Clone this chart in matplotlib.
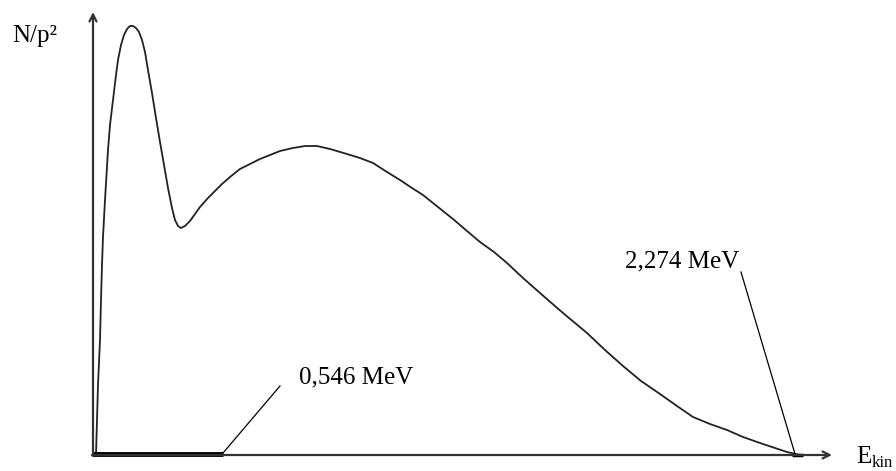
import numpy as np
import matplotlib as mpl
mpl.use('Agg')
import matplotlib.pyplot as plt

# spectrum (pixel units, y grows downward)
e_kin = [96, 97, 98, 100, 101, 102, 103, 105, 108, 110, 113, 116, 118, 121, 124,
         127, 130, 133, 136, 139, 142, 145, 148, 152, 156, 160, 164, 168, 172, 175,
         178, 181, 185, 190, 195, 200, 208, 215, 222, 230, 240, 250, 260, 270, 280,
         293, 305, 317, 330, 347, 360, 373, 387, 400, 412, 423, 438, 453, 467, 480,
         494, 507, 523, 540, 563, 587, 605, 623, 641, 660, 677, 693, 710, 727, 743,
         760, 775, 787, 800]
n_p2 = [455, 420, 385, 340, 300, 265, 237, 200, 150, 125, 100, 75, 60, 45, 35,
        29, 26, 26, 28, 32, 40, 52, 70, 93, 118, 142, 165, 188, 208, 220,
        226, 228, 226, 221, 214, 207, 198, 191, 184, 177, 169, 164, 159, 155, 151,
        148, 146, 146, 149, 154, 158, 163, 172, 180, 188, 195, 207, 219, 231, 242,
        252, 263, 278, 293, 313, 333, 350, 366, 381, 394, 406, 417, 424, 430, 437,
        443, 448, 452, 455]

x0, y0 = 93, 455          # origin
e_low, e_high = 223, 800  # 0,546 MeV and 2,274 MeV end points
labels = ['0,546 MeV', '2,274 MeV']

plt.rcParams['font.family'] = ['Liberation Serif', 'DejaVu Serif']

fig = plt.figure(figsize=(8.96, 4.71), dpi=100)
ax = fig.add_axes([0, 0, 1, 1])
ax.set_xlim(0, 896)
ax.set_ylim(471, 0)
ax.axis('off')

axcol = '#333333'
arrow = dict(arrowstyle='->,head_length=0.5,head_width=0.25', color=axcol, lw=1.6,
             shrinkA=0, shrinkB=0)
ax.annotate('', xy=(x0, 12), xytext=(x0, y0 + 1), arrowprops=arrow)
ax.annotate('', xy=(832, y0), xytext=(x0 - 1, y0), arrowprops=arrow)

ax.plot(e_kin, n_p2, color='#222222', lw=1.3, solid_joinstyle='round')

# thick marks on the energy axis
ax.plot([x0, e_low], [y0 - 1.5, y0 - 1.5], color='black', lw=3.5, solid_capstyle='butt')
ax.plot([e_high - 8, e_high + 3], [y0 - 0.5, y0 - 0.5], color='black', lw=2.5,
        solid_capstyle='butt')

# labels with leader lines
ax.plot([e_low, 280], [y0 - 2, 386], color='black', lw=0.9)
ax.text(299, 383, labels[0], fontsize=18, va='baseline', ha='left')
ax.plot([e_high - 5, 741], [y0 - 1, 272], color='black', lw=0.9)
ax.text(625, 267, labels[1], fontsize=18, va='baseline', ha='left')

ax.text(12, 42, 'N/p²', fontsize=18, va='baseline', ha='left')
ax.text(856, 463, 'E', fontsize=18, va='baseline', ha='left')
ax.text(872, 467, 'kin', fontsize=12, va='baseline', ha='left')

plt.savefig('out.png', dpi=100)
